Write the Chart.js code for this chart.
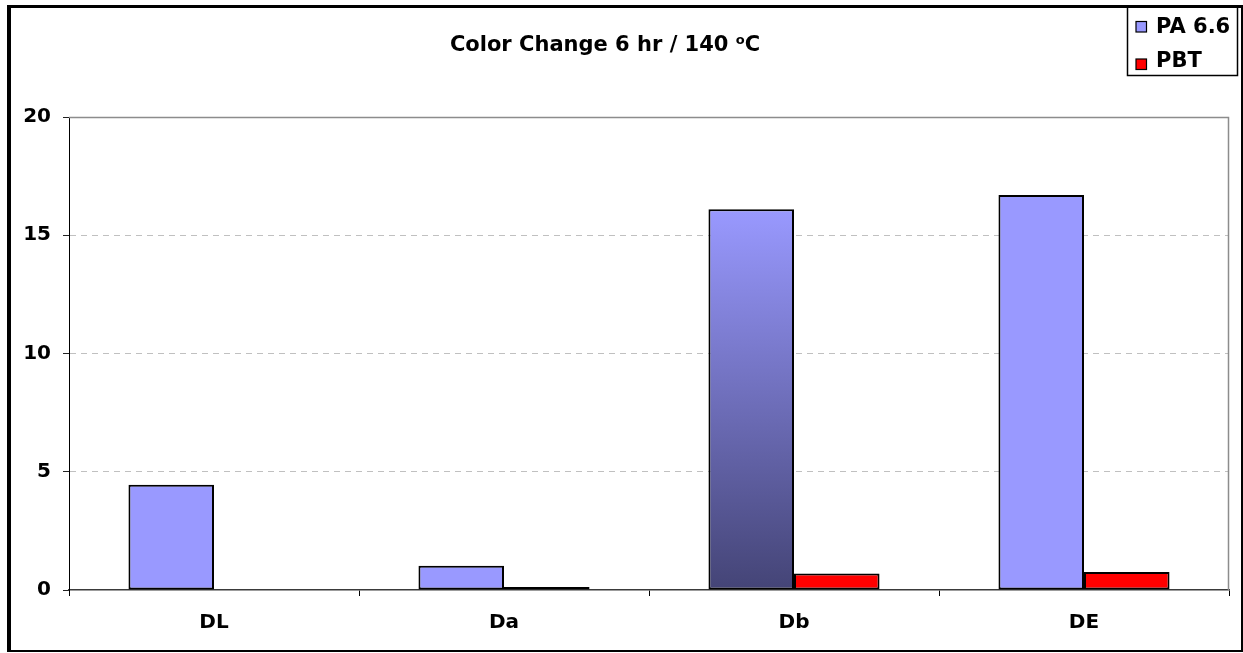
<!DOCTYPE html>
<html>
<head>
<meta charset="utf-8">
<script src="https://cdn.jsdelivr.net/npm/chart.js@4/dist/chart.umd.min.js"></script>
<style>
  html, body { margin: 0; padding: 0; background: #fff; }
  #wrap { width: 1243px; height: 653px; }
</style>
</head>
<body>
<div id="wrap"><canvas id="colorChart" width="1243" height="653"></canvas></div>
<script>
const categories = ['DL', 'Da', 'Db', 'DE'];
const pa66Values = [4.45, 1.03, 16.1, 16.7];
const pbtValues = [0, 0.13, 0.7, 0.76];
const seriesNames = ['PA 6.6', 'PBT'];
const yMin = 0, yMax = 20, yStep = 5;

const FONT = '"DejaVu Sans", Verdana, sans-serif';
const PA_COLOR = '#9999FF';
const PBT_COLOR = '#FF0000';

// the Db column is shaded light at the top, dark at the base
function paFill(ctx) {
  const chart = ctx.chart;
  if (!chart.chartArea || ctx.dataIndex !== 2) return PA_COLOR;
  const y = chart.scales.y;
  const top = y.getPixelForValue(pa66Values[2]);
  const bottom = y.getPixelForValue(0);
  const g = chart.ctx.createLinearGradient(0, top, 0, bottom);
  g.addColorStop(0, '#9999FF');
  g.addColorStop(1, '#444476');
  return g;
}

const decorations = {
  id: 'decorations',
  beforeDraw(chart) {
    const c = chart.ctx;
    c.save();
    c.fillStyle = '#fff';
    c.fillRect(0, 0, chart.width, chart.height);
    c.restore();
  },
  afterDatasetsDraw(chart) {
    // grey plot frame on the top and right
    const a = chart.chartArea;
    const c = chart.ctx;
    c.save();
    c.strokeStyle = '#8c8c8c';
    c.lineWidth = 1.5;
    c.beginPath();
    c.moveTo(a.left, a.top + 0.5);
    c.lineTo(a.right - 0.5, a.top + 0.5);
    c.lineTo(a.right - 0.5, a.bottom);
    c.stroke();
    c.restore();
  },
  afterDraw(chart) {
    const c = chart.ctx;
    c.save();

    // title with superscript degree "o"
    const main = 'Color Change 6 hr / 140 ';
    c.fillStyle = '#000';
    c.textBaseline = 'alphabetic';
    c.textAlign = 'left';
    c.font = 'bold 21px ' + FONT;
    const wMain = c.measureText(main).width;
    const wC = c.measureText('C').width;
    c.font = 'bold 13px ' + FONT;
    const wSup = c.measureText('o').width;
    let x = 605 - (wMain + wSup + wC) / 2;
    c.font = 'bold 21px ' + FONT;
    c.fillText(main, x, 51);
    x += wMain;
    c.font = 'bold 13px ' + FONT;
    c.fillText('o', x, 44);
    x += wSup;
    c.font = 'bold 21px ' + FONT;
    c.fillText('C', x, 51);

    // legend box
    c.strokeStyle = '#000';
    c.lineWidth = 1.5;
    c.strokeRect(1127.5, 6, 110, 69.5);
    const colors = [PA_COLOR, PBT_COLOR];
    const boxTops = [21.5, 59];
    const baselines = [33, 66.5];
    c.font = 'bold 21px ' + FONT;
    seriesNames.forEach((name, i) => {
      c.fillStyle = colors[i];
      c.fillRect(1136, boxTops[i], 10.5, 10.5);
      c.lineWidth = 1.2;
      c.strokeStyle = '#000';
      c.strokeRect(1136, boxTops[i], 10.5, 10.5);
      c.fillStyle = '#000';
      c.fillText(name, 1156, baselines[i]);
    });

    // outer frame
    c.fillStyle = '#000';
    c.fillRect(7, 5, 1236, 3);
    c.fillRect(7, 5, 4, 647);
    c.fillRect(1241, 5, 2, 647);
    c.fillRect(7, 650, 1236, 2);
    c.restore();
  }
};

new Chart(document.getElementById('colorChart'), {
  type: 'bar',
  data: {
    labels: categories,
    datasets: [
      {
        label: seriesNames[0],
        data: pa66Values,
        backgroundColor: paFill,
        borderColor: '#000',
        borderWidth: 2,
        borderSkipped: false,
        categoryPercentage: 0.59,
        barPercentage: 1.0
      },
      {
        label: seriesNames[1],
        data: pbtValues,
        backgroundColor: PBT_COLOR,
        borderColor: '#000',
        borderWidth: 2,
        borderSkipped: false,
        categoryPercentage: 0.59,
        barPercentage: 1.0
      }
    ]
  },
  options: {
    responsive: false,
    animation: false,
    devicePixelRatio: 1,
    layout: { padding: { left: 0, top: 117, right: 14, bottom: 0 } },
    plugins: {
      legend: { display: false },
      title: { display: false },
      tooltip: { enabled: false }
    },
    scales: {
      x: {
        afterFit(scale) { scale.height = 63; },
        grid: {
          offset: true,
          drawOnChartArea: false,
          tickLength: 6,
          color: '#000'
        },
        border: { color: '#3a3a3a', width: 1.5 },
        ticks: {
          color: '#000',
          padding: 15,
          font: { family: FONT, size: 20, weight: 'bold' }
        }
      },
      y: {
        min: yMin,
        max: yMax,
        afterFit(scale) { scale.width = 69; },
        grid: {
          color: (ctx) => (ctx.tick && (ctx.tick.value === yMin || ctx.tick.value === yMax)) ? 'rgba(0,0,0,0)' : '#c0c0c0',
          tickColor: '#222',
          tickLength: 6,
          tickBorderDash: []
        },
        border: { color: '#000', width: 1, dash: [6, 5] },
        ticks: {
          stepSize: yStep,
          color: '#000',
          padding: 12,
          font: { family: FONT, size: 20, weight: 'bold' }
        }
      }
    }
  },
  plugins: [decorations]
});
</script>
</body>
</html>
